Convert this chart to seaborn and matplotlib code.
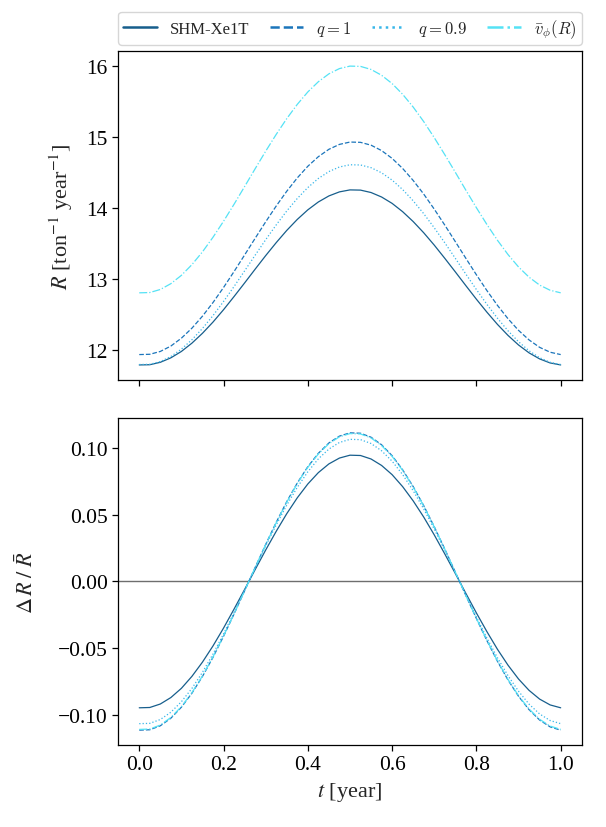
import numpy as np
import pandas as pd
import matplotlib
matplotlib.use("Agg")
import matplotlib.pyplot as plt
from matplotlib.font_manager import FontProperties
import seaborn as sns

# ---- data ----
t = [0.000, 0.025, 0.050, 0.075, 0.100, 0.125, 0.150, 0.175, 0.200, 0.225,
     0.250, 0.275, 0.300, 0.325, 0.350, 0.375, 0.400, 0.425, 0.450, 0.475,
     0.500, 0.525, 0.550, 0.575, 0.600, 0.625, 0.650, 0.675, 0.700, 0.725,
     0.750, 0.775, 0.800, 0.825, 0.850, 0.875, 0.900, 0.925, 0.950, 0.975, 1.000]
R_shm = [11.787, 11.790, 11.824, 11.887, 11.977, 12.094, 12.233, 12.391, 12.565, 12.751,
         12.942, 13.136, 13.327, 13.510, 13.682, 13.837, 13.972, 14.083, 14.168, 14.225,
         14.253, 14.250, 14.216, 14.153, 14.063, 13.946, 13.807, 13.649, 13.475, 13.289,
         13.098, 12.904, 12.713, 12.530, 12.358, 12.203, 12.068, 11.957, 11.872, 11.815, 11.787]
R_q1 = [11.933, 11.937, 11.977, 12.053, 12.164, 12.305, 12.474, 12.666, 12.878, 13.103,
        13.336, 13.571, 13.803, 14.026, 14.234, 14.422, 14.586, 14.721, 14.825, 14.894,
        14.927, 14.923, 14.883, 14.807, 14.697, 14.555, 14.386, 14.194, 13.982, 13.757,
        13.524, 13.289, 13.057, 12.834, 12.626, 12.438, 12.274, 12.139, 12.035, 11.966, 11.933]
R_q09 = [11.793, 11.796, 11.834, 11.906, 12.010, 12.142, 12.301, 12.482, 12.681, 12.892,
         13.112, 13.333, 13.551, 13.760, 13.956, 14.132, 14.286, 14.414, 14.511, 14.576,
         14.607, 14.604, 14.566, 14.494, 14.391, 14.258, 14.099, 13.918, 13.719, 13.508,
         13.289, 13.067, 12.849, 12.640, 12.445, 12.268, 12.114, 11.986, 11.889, 11.824, 11.793]
R_vphi = [12.803, 12.807, 12.850, 12.932, 13.049, 13.200, 13.380, 13.586, 13.811, 14.051,
          14.300, 14.551, 14.798, 15.035, 15.257, 15.458, 15.633, 15.777, 15.888, 15.962,
          15.997, 15.993, 15.950, 15.868, 15.751, 15.600, 15.420, 15.215, 14.989, 14.749,
          14.501, 14.249, 14.002, 13.765, 13.543, 13.342, 13.167, 13.023, 12.912, 12.839, 12.803]

labels = ["SHM-Xe1T", r"$q=1$", r"$q=0.9$", r"$\bar{v}_\phi(R)$"]
colors = ["#175e8c", "#1b75bb", "#38b6e9", "#55e2f5"]
styles = ["-", "--", ":", "-."]

sns.set_style("ticks")
plt.rcParams["font.family"] = ["Liberation Serif", "DejaVu Serif"]
plt.rcParams["mathtext.fontset"] = "stix"
plt.rcParams["axes.edgecolor"] = "black"
plt.rcParams["xtick.color"] = "black"
plt.rcParams["ytick.color"] = "black"

fig = plt.figure(figsize=(6.06, 8.28), dpi=100)
ax1 = fig.add_axes([0.195, 0.540, 0.765, 0.397])
ax2 = fig.add_axes([0.195, 0.099, 0.765, 0.395], sharex=ax1)

series = [R_shm, R_q1, R_q09, R_vphi]
tt = np.array(t)
for vals, lab, c, ls in zip(series, labels, colors, styles):
    v = np.array(vals)
    df = pd.DataFrame({"t": tt, "R": v})
    sns.lineplot(data=df, x="t", y="R", ax=ax1, color=c, linestyle=ls, lw=0.9, label=lab)
    rbar = v[:-1].mean()
    df2 = pd.DataFrame({"t": tt, "d": v / rbar - 1})
    sns.lineplot(data=df2, x="t", y="d", ax=ax2, color=c, linestyle=ls, lw=0.9)

ax2.axhline(0, color="#6e6e6e", lw=1.0, zorder=0)

for ax in (ax1, ax2):
    ax.tick_params(labelsize=15.5, length=4, width=0.9)
    for s in ax.spines.values():
        s.set_linewidth(0.9)
ax1.tick_params(labelbottom=False)
ax1.set_xlabel("")
ax1.set_yticks([12, 13, 14, 15, 16])
ax2.set_yticks([-0.10, -0.05, 0.0, 0.05, 0.10])
ax2.set_xticks([0.0, 0.2, 0.4, 0.6, 0.8, 1.0])
ax1.set_ylabel(r"$R$ [ton$^{-1}$ year$^{-1}$]", fontsize=16)
ax2.set_ylabel(r"$\Delta\, R\;/\;\bar{R}$", fontsize=16)
ax2.set_xlabel(r"$t$ [year]", fontsize=16)
ax1.yaxis.set_label_coords(-0.094, 0.5)
ax2.yaxis.set_label_coords(-0.172, 0.5)

leg_font = FontProperties(family="Liberation Serif", size=12, math_fontfamily="cm")
leg = ax1.legend(loc="lower left", bbox_to_anchor=(0, 1.02, 1, 0.1), ncol=4,
                 mode="expand", prop=leg_font, borderaxespad=0.0, borderpad=0.3,
                 frameon=True, handlelength=2.0)
for h in leg.get_lines():
    h.set_linewidth(1.8)

fig.savefig("out.png", dpi=100)
